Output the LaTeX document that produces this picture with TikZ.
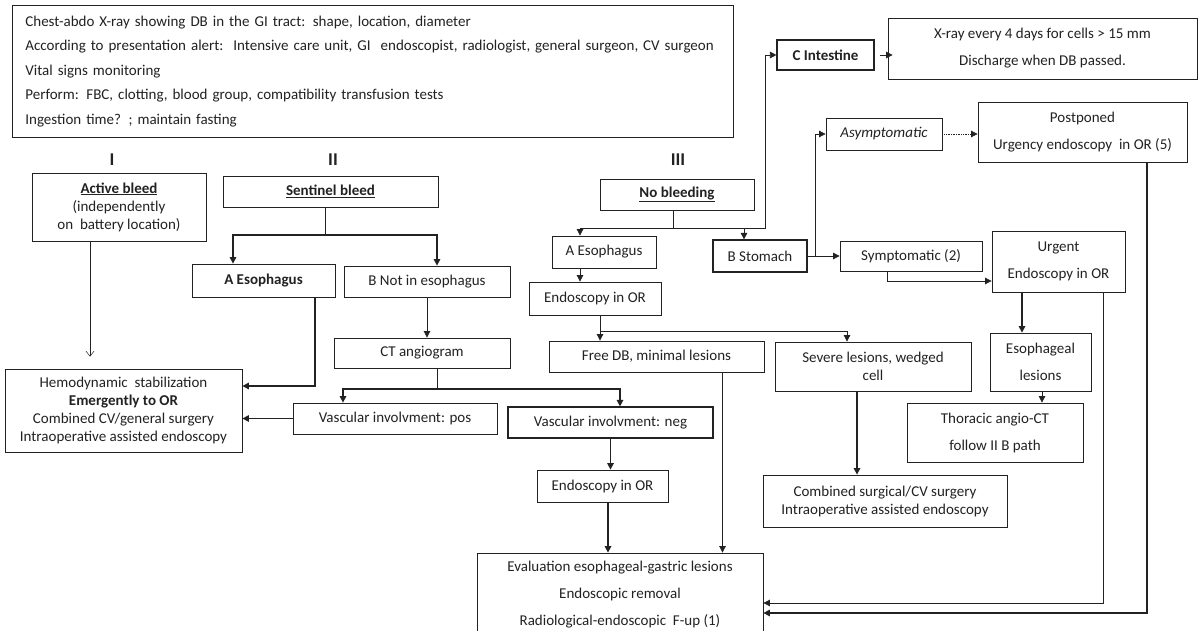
\documentclass[tikz,border=0pt]{standalone}
\usepackage{fontspec}
\setmainfont{Carlito}
\usetikzlibrary{arrows.meta,calc}
\definecolor{ink}{HTML}{222222}
\begin{document}
\begin{tikzpicture}[x=1pt,y=-1pt,
  box/.style={draw=ink, line width=0.8pt, inner sep=0pt, align=center, text=ink, font=\fontsize{15}{18}\selectfont},
  wide/.style={font=\fontsize{15}{27}\selectfont},
  roman/.style={text=ink, font=\bfseries\fontsize{18}{18}\selectfont},
  ln/.style={draw=ink, line width=0.7pt},
  lnb/.style={draw=ink, line width=1.4pt},
  tip/.style={-{Triangle[length=6.5pt,width=6.5pt]}},
  opentip/.style={-{Straight Barb[length=5pt,width=8pt]}}
]
\useasboundingbox (0,0) rectangle (1200,631);
\fill[white] (0,0) rectangle (1200,631);

% ---------- nodes ----------
\node[box, anchor=north west, minimum width=721, minimum height=132, align=left, text width=695, inner xsep=13, font=\fontsize{15}{24.5}\selectfont] (top) at (12,5)
 {Chest-abdo X-ray showing DB in the GI tract: shape, location, diameter\\
  According to presentation alert:\ \ Intensive care unit, GI\ \ endoscopist, radiologist, general surgeon, CV surgeon\\
  Vital signs monitoring\\
  Perform: FBC, clotting, blood group, compatibility transfusion tests\\
  Ingestion time? ; maintain fasting};

\node[roman] (r1) at (112,160) {I};
\node[roman] (r2) at (333,160) {II};
\node[roman] (r3) at (678,160) {III};

\node[box, minimum width=174, minimum height=68] (act) at (119,207)
 {\textbf{\underline{Active bleed}}\\(independently\\on\ \ battery location)};
\node[box, minimum width=215, minimum height=31] (sent) at (330.5,191.5) {\textbf{\underline{Sentinel bleed}}};
\node[box, minimum width=143, minimum height=33] (aesoII) at (263.5,280.5) {\textbf{A Esophagus}};
\node[box, minimum width=166, minimum height=31] (bnot) at (427,281.5) {B Not in esophagus};
\node[box, minimum width=176, minimum height=30] (ct) at (422,353) {CT angiogram};
\node[box, minimum width=204, minimum height=31] (vpos) at (395,418.5) {Vascular involvment: pos};
\node[box, minimum width=205, minimum height=31, line width=1.2pt] (vneg) at (610.5,422.5) {Vascular involvment: neg};
\node[box, minimum width=131, minimum height=32] (endoII) at (602.5,486) {Endoscopy in OR};
\node[box, minimum width=237, minimum height=83] (hemo) at (123.5,410.5)
 {Hemodynamic\ \ stabilization\\\textbf{Emergently to OR}\\Combined CV/general surgery\\Intraoperative assisted endoscopy};
\node[box, wide, minimum width=286, minimum height=83] (eval) at (620,594.5)
 {Evaluation esophageal-gastric lesions\\Endoscopic removal\\Radiological-endoscopic\ \ F-up (1)};

\node[box, minimum width=154, minimum height=31] (nobl) at (677,194.5) {\textbf{\underline{No bleeding}}};
\node[box, minimum width=104, minimum height=32] (aesoIII) at (604,252) {A Esophagus};
\node[box, minimum width=94, minimum height=32, line width=1.2pt] (bstom) at (760,256) {B Stomach};
\node[box, minimum width=132, minimum height=33] (endoIII) at (595,298.5) {Endoscopy in OR};
\node[box, minimum width=215, minimum height=31] (freedb) at (656.5,356.5) {Free DB, minimal lesions};
\node[box, minimum width=196, minimum height=49] (severe) at (873,366.5) {Severe lesions, wedged\\cell};
\node[box, minimum width=244, minimum height=52] (comb) at (885,501) {Combined surgical/CV surgery\\Intraoperative assisted endoscopy};

\node[box, minimum width=97, minimum height=30, line width=1.1pt] (cint) at (825.5,55) {\textbf{C Intestine}};
\node[box, wide, minimum width=309, minimum height=61] (xray) at (1042.5,48.5) {X-ray every 4 days for cells > 15 mm\\Discharge when DB passed.};
\node[box, minimum width=116, minimum height=32] (asym) at (884,134) {\textit{Asymptomatic}};
\node[box, wide, minimum width=209, minimum height=60] (postp) at (1082.5,132) {Postponed\\Urgency endoscopy\ \ in OR (5)};
\node[box, minimum width=142, minimum height=30] (symp) at (911,256) {Symptomatic (2)};
\node[box, wide, minimum width=133, minimum height=61] (urg) at (1058.5,261.5) {Urgent\\Endoscopy in OR};
\node[box, wide, minimum width=101, minimum height=58] (esol) at (1040.5,362) {Esophageal\\lesions};
\node[box, wide, minimum width=176, minimum height=59] (thor) at (995,432.5) {Thoracic angio-CT\\follow II B path};

% ---------- junctions ----------
\coordinate (sj) at (325,235);
\coordinate (cj) at (437,389);
\coordinate (nj) at (673,228);
\coordinate (nup) at (765,228);
\coordinate (ej) at (600,331);
\coordinate (bj) at (815,256);

% ---------- connectors ----------
% I
\draw[ln, line width=0.5pt, opentip, shorten >=12pt] ([xshift=-29]act.south) -- ([xshift=-29]act.south |- hemo.north);
% II
\draw[ln] ([xshift=-5.5]sent.south) -- (sj);
\draw[lnb, tip] (sj) -| ([xshift=-30.5]aesoII.north);
\draw[lnb, tip] (sj) -| ([xshift=10]bnot.north);
\draw[lnb, tip] ([xshift=51.5]aesoII.south) |- ([yshift=24.5]hemo.east);
\draw[ln, tip] (bnot.south) -- (bnot.south |- ct.north);
\draw[ln] ([xshift=15]ct.south) -- (cj);
\draw[lnb, tip] (cj) -| ([xshift=-52]vpos.north);
\draw[lnb, tip] (cj) -| ([xshift=9.5]vneg.north);
\draw[lnb, tip] (vpos.west) -- (vpos.west -| hemo.east);
\draw[lnb, tip] (vneg.south) -- (vneg.south |- endoII.north);
\draw[lnb, tip] ([xshift=5.5]endoII.south) -- ([xshift=5.5]endoII.south |- eval.north);
% III
\draw[ln] ([xshift=-4]nobl.south) -- (nj);
\draw[ln, tip] (nj) -| ([xshift=-24]aesoIII.north);
\draw[ln, tip] (nj) -| ([xshift=-16]bstom.north);
\draw[ln, tip] (nj) -- (nup) |- (cint.west);
\draw[ln, tip] ([xshift=-24]aesoIII.south) -- ([xshift=-24]aesoIII.south |- endoIII.north);
\draw[ln] ([xshift=5]endoIII.south) -- (ej);
\draw[ln, tip] (ej) -- (ej |- freedb.north);
\draw[ln, tip] (ej) -| ([xshift=-26]severe.north);
\draw[ln, tip] ([xshift=66]freedb.south) -- ([xshift=66]freedb.south |- eval.north);
\draw[lnb, tip] ([xshift=-16]severe.south) -- ([xshift=-16]severe.south |- comb.north);
\draw[ln, tip] ([xshift=5]cint.east) -- ([xshift=5]cint.east -| xray.west);
\draw[ln, tip] (bstom.east) -- (symp.west);
\draw[ln, tip] (bj) |- (asym.west);
\draw[ln, densely dotted, tip] (asym.east) -- (asym.east -| postp.west);
\draw[ln, tip] ([xshift=-24]symp.south) |- ([yshift=-19.5]urg.west);
\draw[lnb, tip] ([xshift=-36.5]urg.south) -- ([xshift=-36.5]urg.south |- esol.north);
\draw[ln, tip] ([xshift=1.5]esol.south) -- ([xshift=1.5]esol.south |- thor.north);
\draw[ln, tip] ([xshift=44.5]urg.south) |- ([yshift=-8.5]eval.east);
\draw[lnb, tip] ([xshift=64.5]postp.south) |- ([yshift=-18.5]eval.east);
\end{tikzpicture}
\end{document}
